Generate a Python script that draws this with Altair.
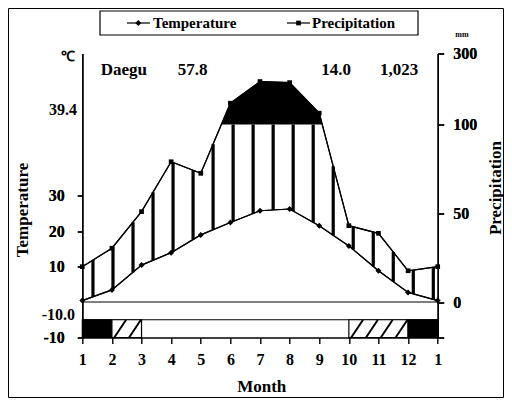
import altair as alt
import numpy as np
import pandas as pd

# ---------------- data ----------------
months = list(range(1, 14))
month_labels = ["1", "2", "3", "4", "5", "6", "7", "8", "9", "10", "11", "12", "1"]
temperature = [0.4, 3.4, 10.4, 13.9, 18.9, 22.4, 25.7, 26.2, 21.5, 15.8, 8.8, 2.7, 0.4]
precipitation = [19.9, 30.3, 50.9, 79.0, 72.5, 160.0, 221.0, 218.0, 132.0, 43.0, 38.7, 17.6, 19.9]

station = "Daegu"
elevation = "57.8"
mean_temp = "14.0"
annual_precip = "1,023"
max_temp_label = "39.4"
min_temp_label = "-10.0"

temp_ticks = [-10, 10, 20, 30]
precip_ticks = [0, 50, 100, 300]

frost_start = [1, 2, 10, 12]
frost_end = [2, 3, 12, 13]
frost_kind = ["sure", "probable", "probable", "sure"]


def pu(p):
    # Walter-Lieth style: 20 mm = 10 C below 100 mm, compressed above
    return p / 2.0 if p <= 100 else 50.0 + (p - 100.0) / 10.0


# ---------------- layout ----------------
W_PLOT, H_PLOT = 355.4, 284
PAD_L, PAD_T = 74.3, 45.5
SVG_W, SVG_H = 496, 390
FONT = "Liberation Serif"

yscale = alt.Scale(domain=[-10, 70], nice=False, zero=False)
xscale = alt.Scale(domain=[1, 13], nice=False, zero=False)

x_axis = alt.Axis(
    values=months, title=None, tickSize=6, labelPadding=8,
    labelExpr="datum.value == 13 ? '1' : datum.value",
    labelFontSize=16, labelOverlap=False, labelFlush=False, grid=False,
)

pu_arr = np.array([pu(p) for p in precipitation])
lines_df = pd.DataFrame({"m": months, "t": temperature, "p": pu_arr})

# vertical humid-period hatching
hatch_m = np.arange(1.36, 13.0, 0.676)
hatch_df = pd.DataFrame({
    "m": hatch_m,
    "lo": np.interp(hatch_m, months, temperature),
    "hi": np.minimum(np.interp(hatch_m, months, pu_arr), 50.0),
})

# black region above 100 mm
wet_m, wet_v = [], []
for i in range(len(months) - 1):
    a, b = pu_arr[i], pu_arr[i + 1]
    if a > 50:
        wet_m.append(months[i]); wet_v.append(a)
    if (a - 50) * (b - 50) < 0:
        f = (50 - a) / (b - a)
        wet_m.append(months[i] + f); wet_v.append(50.0)
wet_df = pd.DataFrame({"m": wet_m, "v": wet_v, "base": 50.0})

frost_df = pd.DataFrame({"a": frost_start, "b": frost_end, "k": frost_kind,
                         "y0": -10.0, "y1": -5.0})
diag_rows = []
for s, e, k in zip(frost_start, frost_end, frost_kind):
    if k == "probable":
        m0 = s + 0.08
        while m0 + 0.4 <= e + 1e-6:
            diag_rows.append({"a": m0, "b": m0 + 0.4, "y0": -10.0, "y1": -5.0})
            m0 += 0.5
diag_df = pd.DataFrame(diag_rows)

one = pd.DataFrame({"d": [0]})

# ---------------- layers ----------------
X = alt.X("m:Q", scale=xscale, axis=x_axis)

temp_line = alt.Chart(lines_df).mark_line(color="black", strokeWidth=1.2).encode(
    x=X,
    y=alt.Y("t:Q", scale=yscale, axis=alt.Axis(
        orient="left", values=temp_ticks, title=None, tickSize=5, labelPadding=13,
        labelExpr="datum.value == -10 ? '-10' : datum.label",
        labelFontSize=16, labelOverlap=False, labelFlush=False, grid=False)),
)
precip_line = alt.Chart(lines_df).mark_line(color="black", strokeWidth=1.2).encode(
    x=X,
    y=alt.Y("p:Q", scale=yscale, axis=alt.Axis(
        orient="right", values=[-10] + [pu(v) for v in precip_ticks], title=None,
        tickSize=6, labelPadding=9,
        labelExpr=" : ".join(
            [f"datum.value == {pu(v)} ? '{v}'" for v in precip_ticks]) + " : ''",
        labelFontSize=16, labelOverlap=False, labelFlush=False, grid=False)),
)

hatch = alt.Chart(hatch_df).mark_rule(color="black", strokeWidth=3.2).encode(
    x=X, y=alt.Y("lo:Q", scale=yscale, axis=None), y2="hi:Q")

wet = alt.Chart(wet_df).mark_area(color="black", opacity=1).encode(
    x=X, y=alt.Y("v:Q", scale=yscale, axis=None), y2="base:Q")

temp_pts = alt.Chart(lines_df).mark_point(
    filled=True, shape="diamond", size=36, color="black", opacity=1).encode(
    x=X, y=alt.Y("t:Q", scale=yscale, axis=None))
precip_pts = alt.Chart(lines_df).mark_point(
    filled=True, shape="square", size=22, color="black", opacity=1).encode(
    x=X, y=alt.Y("p:Q", scale=yscale, axis=None))

hrules = alt.Chart(pd.DataFrame({"y": [0.0, -5.0]})).mark_rule(
    color="black", strokeWidth=1.2).encode(y=alt.Y("y:Q", scale=yscale, axis=None))

frost = alt.Chart(frost_df).mark_rect(stroke="black", strokeWidth=1.2).encode(
    x=alt.X("a:Q", scale=xscale, axis=x_axis), x2="b:Q",
    y=alt.Y("y0:Q", scale=yscale, axis=None), y2="y1:Q",
    fill=alt.Fill("k:N", scale=alt.Scale(domain=["sure", "probable"],
                                         range=["black", "white"]), legend=None),
)
diag = alt.Chart(diag_df).mark_rule(color="black", strokeWidth=2).encode(
    x=alt.X("a:Q", scale=xscale, axis=x_axis), x2="b:Q",
    y=alt.Y("y0:Q", scale=yscale, axis=None), y2="y1:Q")


def txt(s, x, y, size=15, align="center", angle=0, baseline="middle"):
    return alt.Chart(pd.DataFrame({"t": [s]})).mark_text(
        font=FONT, fontWeight="bold", fontSize=size, align=align,
        baseline=baseline, angle=angle, color="black").encode(
        text="t:N", x=alt.value(x), y=alt.value(y))


texts = [
    txt(station, 18.4, 16.5, 17, align="left"),
    txt(elevation, 110.2, 16.5, 17),
    txt(mean_temp, 253.7, 16.5, 17),
    txt(annual_precip, 316.7, 16.5, 17),
    txt(max_temp_label, -5.3, 56.5, 16, align="right"),
    txt(min_temp_label, -7.3, 261.5, 16, align="right"),
    txt("℃", -14.3, 3.5, 14),
    txt("mm", 379.7, -18.5, 8),
    txt("Temperature", -59.3, 156.5, 17, angle=270),
    txt("Precipitation", 413.7, 134.5, 17, angle=270),
    txt("Month", 179.4, 333, 17),
]

border = alt.Chart(one).mark_rect(filled=False, stroke="black", strokeWidth=1).encode(
    x=alt.value(-73.8), x2=alt.value(421.2), y=alt.value(-45), y2=alt.value(344))

leg_box = alt.Chart(one).mark_rect(fill="white", stroke="black", strokeWidth=1.2).encode(
    x=alt.value(17.7), x2=alt.value(335.7), y=alt.value(-42.5), y2=alt.value(-18.5))
leg_l1 = alt.Chart(one).mark_rule(color="black", strokeWidth=1.2).encode(
    x=alt.value(44.7), x2=alt.value(67.7), y=alt.value(-30.5))
leg_l2 = alt.Chart(one).mark_rule(color="black", strokeWidth=1.2).encode(
    x=alt.value(204.7), x2=alt.value(227.7), y=alt.value(-30.5))
leg_p1 = alt.Chart(one).mark_point(filled=True, shape="diamond", size=36,
                                   color="black", opacity=1).encode(
    x=alt.value(56), y=alt.value(-30.5))
leg_p2 = alt.Chart(one).mark_point(filled=True, shape="square", size=22,
                                   color="black", opacity=1).encode(
    x=alt.value(216.2), y=alt.value(-30.5))
leg_t1 = txt("Temperature", 70.7, -30.5, 15, align="left")
leg_t2 = txt("Precipitation", 229.7, -30.5, 15, align="left")

chart = alt.layer(
    temp_line, precip_line, hatch, wet, temp_line, precip_line, temp_pts, precip_pts,
    hrules, frost, diag, border, leg_box, leg_l1, leg_l2, leg_p1, leg_p2,
    leg_t1, leg_t2, *texts,
).resolve_axis(y="independent").properties(
    width=W_PLOT, height=H_PLOT,
    autosize=alt.AutoSizeParams(type="none"),
    padding={"left": PAD_L, "top": PAD_T,
             "right": SVG_W - PAD_L - W_PLOT, "bottom": SVG_H - PAD_T - H_PLOT},
    background="white",
).configure_axis(
    labelFont=FONT, labelFontWeight="bold", labelColor="black",
    domainColor="black", tickColor="black", domainWidth=1.4, tickWidth=1.4,
).configure_view(stroke=None)

chart.save("out.html", embed_options={"renderer": "svg", "actions": False})
